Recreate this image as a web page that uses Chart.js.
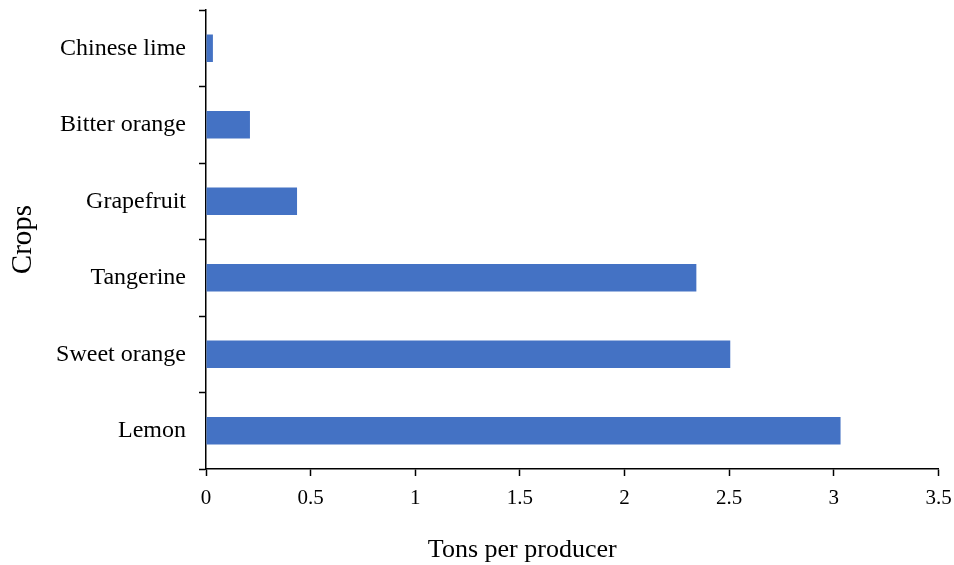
<!DOCTYPE html>
<html>
<head>
<meta charset="utf-8">
<script src="https://cdn.jsdelivr.net/npm/chart.js@4/dist/chart.umd.min.js"></script>
<style>
  html, body { margin: 0; padding: 0; background: #fff; }
  #wrap { width: 954px; height: 565px; }
</style>
</head>
<body>
<div id="wrap"><canvas id="cropChart" width="954" height="565"></canvas></div>
<script>
const crops = ["Chinese lime", "Bitter orange", "Grapefruit", "Tangerine", "Sweet orange", "Lemon"]
const tonsPerProducer = [0.033, 0.21, 0.435, 2.343, 2.505, 3.032]
const xTicks = [0, 0.5, 1, 1.5, 2, 2.5, 3, 3.5]
const xTitle = "Tons per producer"
const yTitle = "Crops"

const serif = "'Liberation Serif', 'Times New Roman', serif"

// x title sits left of the plot centre in the original, so draw it here
const xTitlePlugin = {
    id: 'xTitle',
    afterDraw(chart) {
        const x = chart.scales.x
        const c = chart.ctx
        c.save()
        c.font = "26px " + serif
        c.fillStyle = "#000"
        c.textAlign = "center"
        c.textBaseline = "alphabetic"
        c.fillText(xTitle, (x.left + x.right) / 2 - 50, x.bottom - 8)
        c.restore()
    }
}

const graphConfig = {
    type: 'bar',
    data: {
        labels: crops,
        datasets: [
            {
                label: xTitle,
                data: tonsPerProducer,
                backgroundColor: "#4472c4",
                borderWidth: 0,
                categoryPercentage: 1.0,
                barPercentage: 0.362,
            }
        ],
    },
    options: {
        indexAxis: 'y',
        responsive: false,
        animation: false,
        layout: {
            padding: {top: 10, right: 15.5, left: 0, bottom: 0}
        },
        scales: {
            x: {
                min: xTicks[0],
                max: xTicks[xTicks.length - 1],
                afterBuildTicks: axis => {
                    axis.ticks = xTicks.map(v => ({value: v}))
                },
                grid: {
                    drawOnChartArea: false,
                    color: "#000",
                    tickLength: 7,
                    tickWidth: 1.5,
                },
                border: {color: "#000", width: 1.5},
                ticks: {
                    color: "#000",
                    font: {family: serif, size: 21},
                    padding: 10,
                    maxRotation: 0,
                    callback: v => String(v),
                },
                afterFit: scale => {
                    scale.height = 96
                    scale.paddingLeft = 0
                    scale.paddingRight = 0
                },
            },
            y: {
                offset: true,
                grid: {
                    offset: true,
                    drawOnChartArea: false,
                    color: "#000",
                    tickLength: 7,
                    tickWidth: 1.5,
                },
                border: {color: "#000", width: 1.5},
                ticks: {
                    color: "#000",
                    font: {family: serif, size: 24},
                    padding: 13,
                },
                title: {
                    display: true,
                    text: yTitle,
                    color: "#000",
                    font: {family: serif, size: 29},
                    padding: {top: 6, bottom: 0},
                },
                afterFit: scale => {
                    scale.width = 206
                    scale.paddingTop = 0
                    scale.paddingBottom = 0
                },
            },
        },
        plugins: {
            legend: {display: false},
            tooltip: {enabled: false},
        },
    },
    plugins: [xTitlePlugin],
}

const ctx = document.getElementById("cropChart")
const myChart = new Chart(ctx, graphConfig)
</script>
</body>
</html>
